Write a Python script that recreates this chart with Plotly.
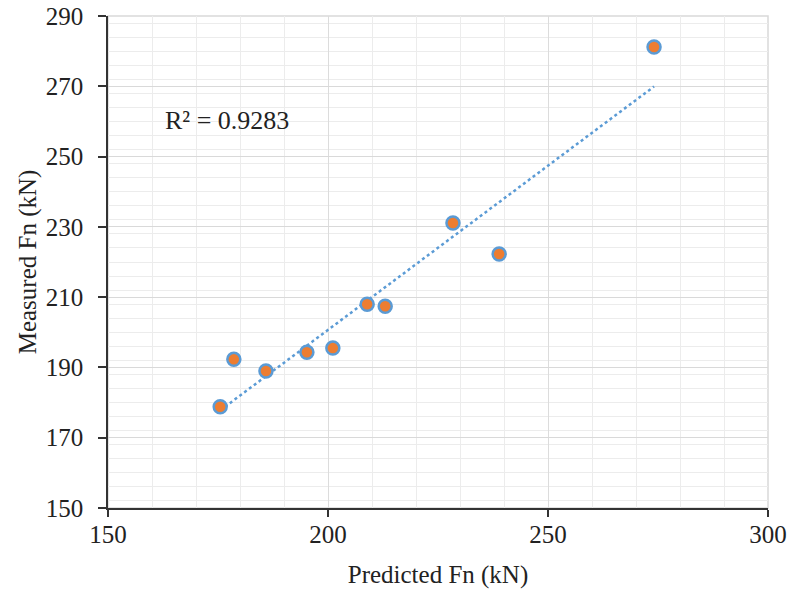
import numpy as np
import plotly.graph_objects as go

predicted = [175.5, 178.6, 185.9, 195.2, 201.1, 208.9, 213.0, 228.4, 238.9, 274.1]
measured = [178.8, 192.3, 189.0, 194.3, 195.5, 208.0, 207.4, 231.1, 222.3, 281.2]
r2_label = "R² = 0.9283"
x_title = "Predicted Fn (kN)"
y_title = "Measured Fn (kN)"

slope, intercept = np.polyfit(predicted, measured, 1)
xt = [min(predicted), max(predicted)]
yt = [slope * v + intercept for v in xt]

font_family = "Liberation Serif, Times New Roman, serif"

fig = go.Figure()
fig.add_trace(go.Scatter(x=xt, y=yt, mode="lines",
                         line=dict(color="#5B9BD5", width=2.5, dash="dot"),
                         showlegend=False, hoverinfo="skip"))
fig.add_trace(go.Scatter(x=predicted, y=measured, mode="markers",
                         marker=dict(size=13, color="#ED7D31",
                                     line=dict(color="#5B9BD5", width=2.5)),
                         showlegend=False))

fig.add_annotation(x=162.5, y=260.4, text=r2_label, showarrow=False,
                   xanchor="left", yanchor="middle",
                   font=dict(family=font_family, size=26, color="#222222"))

fig.add_shape(type="rect", xref="paper", yref="paper", x0=0, y0=0, x1=1, y1=1,
              line=dict(color="#d9d9d9", width=1.5), layer="below")

fig.update_layout(
    width=790, height=589,
    margin=dict(l=108, r=22, t=16, b=81),
    paper_bgcolor="white", plot_bgcolor="white",
    font=dict(family=font_family, size=25, color="#222222"),
    xaxis=dict(range=[150, 300], dtick=50, tick0=150, automargin=False,
               showgrid=True, gridcolor="#dcdcdc", gridwidth=1.2,
               minor=dict(dtick=10, showgrid=True, gridcolor="#ececec", gridwidth=1),
               showline=True, linecolor="#333333", linewidth=1.5,
               ticks="outside", ticklen=7, tickcolor="#333333", tickwidth=1.5,
               ticklabelstandoff=-4,
               zeroline=False,
               title=dict(text=x_title, font=dict(size=25), standoff=22),
               tickfont=dict(size=25)),
    yaxis=dict(range=[150, 290], dtick=20, tick0=150, automargin=False,
               showgrid=True, gridcolor="#d9d9d9", gridwidth=1.2,
               minor=dict(dtick=4, showgrid=True, gridcolor="#ececec", gridwidth=1),
               showline=True, linecolor="#333333", linewidth=1.5,
               ticks="outside", ticklen=8, tickcolor="#333333", tickwidth=1.5,
               ticklabelstandoff=10,
               zeroline=False,
               title=dict(text=y_title, font=dict(size=25), standoff=2),
               tickfont=dict(size=25)),
)

fig.write_html("out.html")
